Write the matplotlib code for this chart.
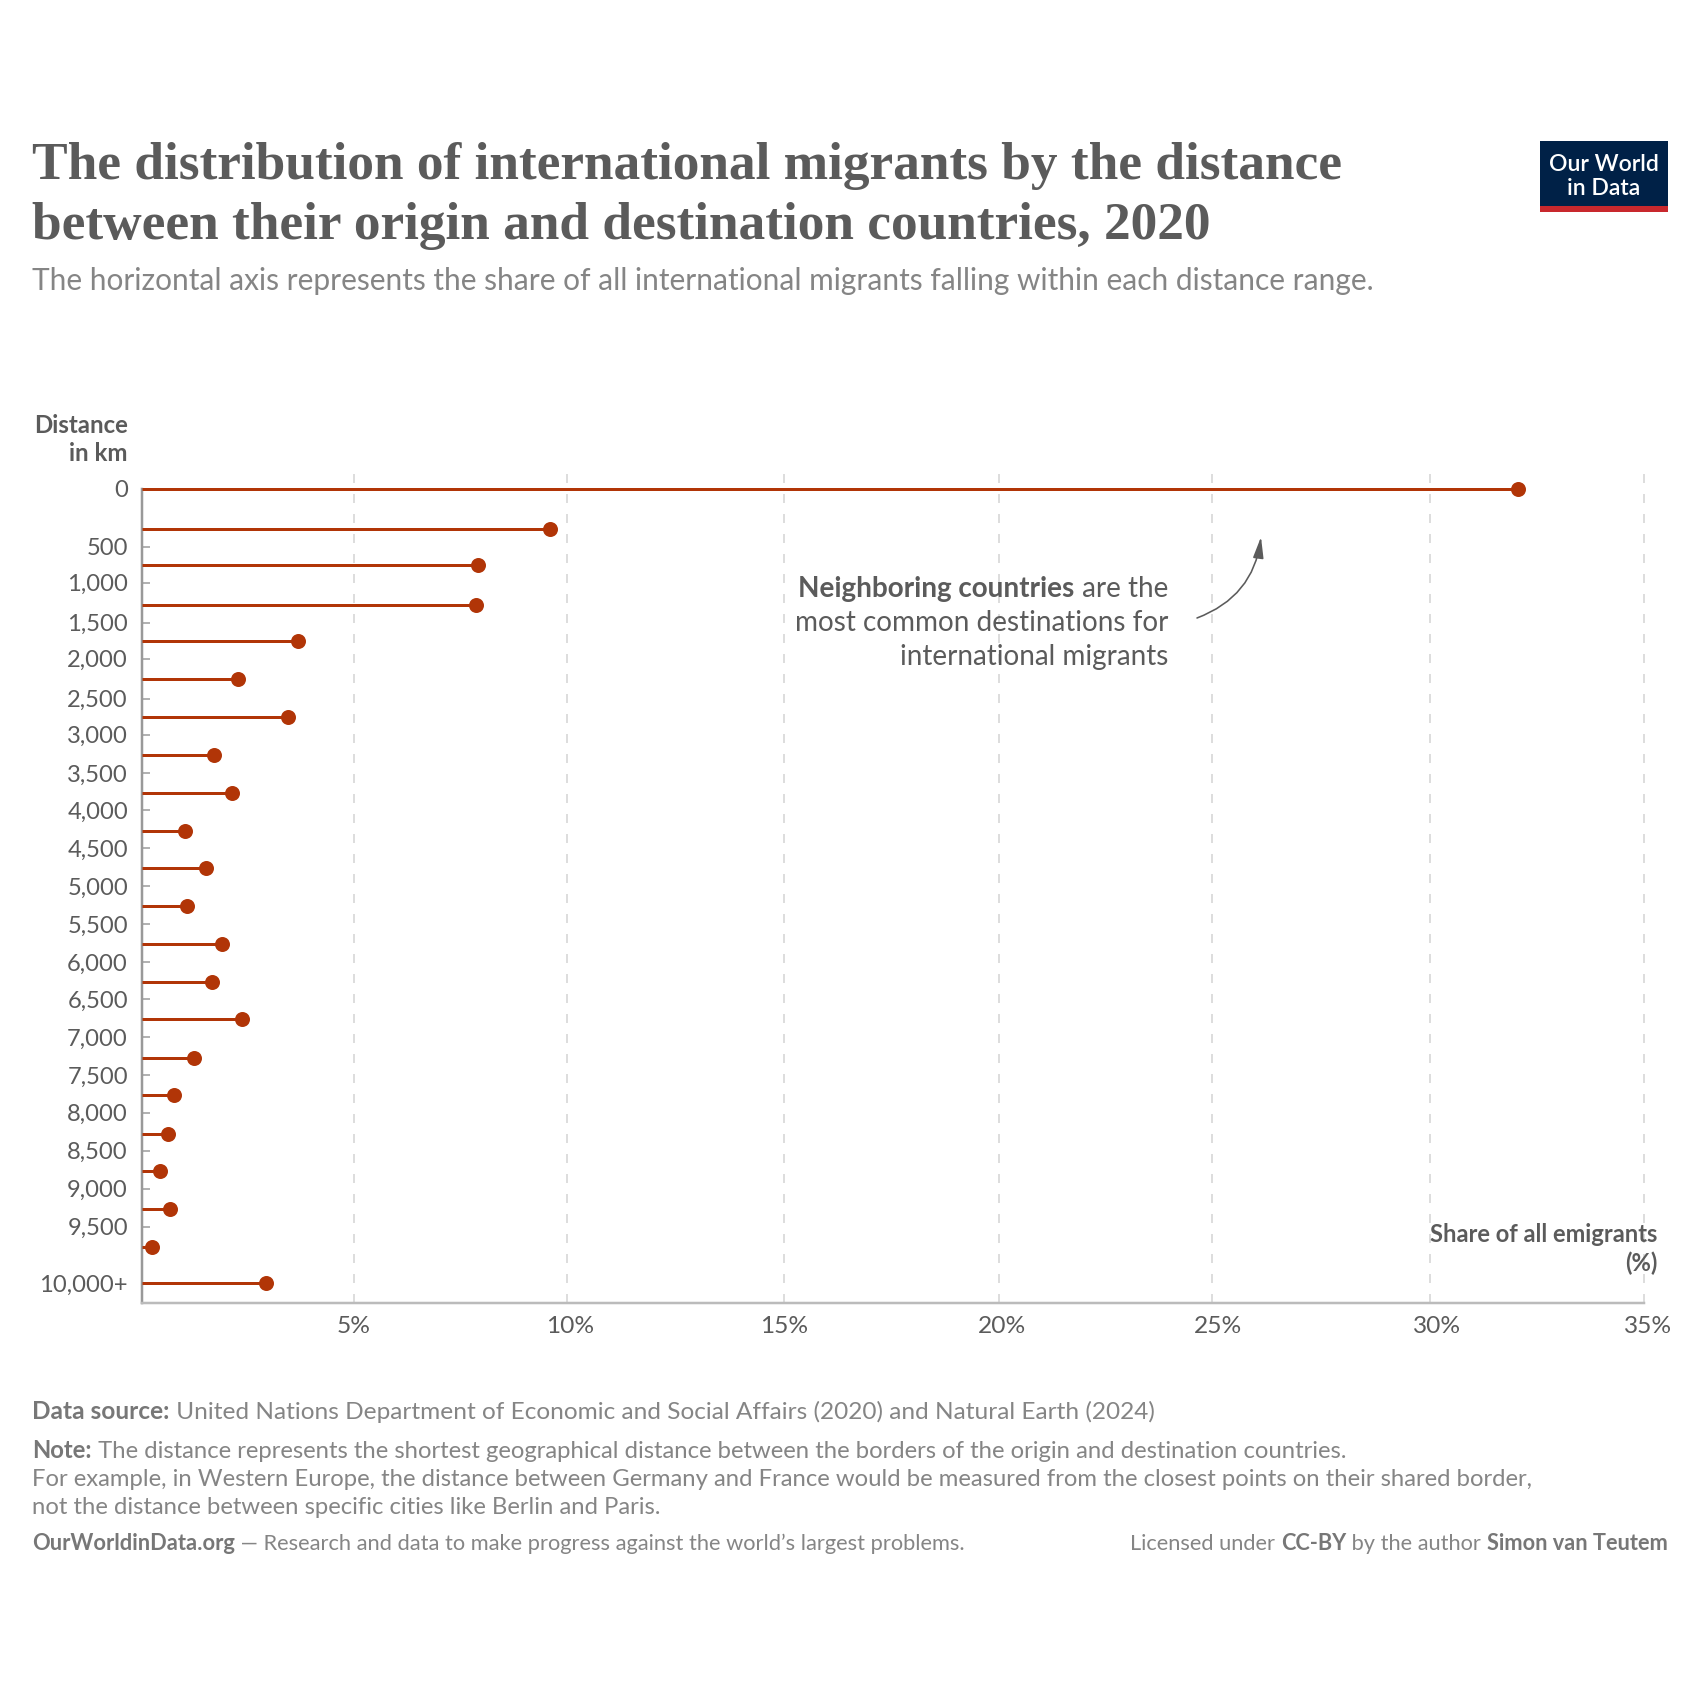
import matplotlib
matplotlib.use('Agg')
import matplotlib.pyplot as plt
from matplotlib.patches import Rectangle, FancyArrowPatch

# rows of the chart: position on the distance scale and share of migrants
row_km = [-265, 265, 741, 1270, 1746, 2249, 2751, 3254, 3757, 4253, 4755,
          5251, 5754, 6257, 6746, 7262, 7751, 8267, 8757, 9259, 9762, 10238]
share = [32.07, 9.5, 7.84, 7.78, 3.64, 2.24, 3.40, 1.68, 2.10, 1.01, 1.49,
         1.06, 1.86, 1.63, 2.33, 1.21, 0.75, 0.61, 0.42, 0.65, 0.23, 2.89]

tick_km = [499, 975, 1504, 1980, 2509, 2985, 3492, 3981, 4484, 4987, 5489,
           5992, 6481, 6984, 7487, 7985, 8488, 8991, 9493]
tick_labels = ['500', '1,000', '1,500', '2,000', '2,500', '3,000', '3,500', '4,000',
               '4,500', '5,000', '5,500', '6,000', '6,500', '7,000', '7,500',
               '8,000', '8,500', '9,000', '9,500']
end_km = [-265, 10238]
end_labels = ['0', '10,000+']
# gridlines and their labels, in percent
x_ticks = [4.94, 9.90, 14.96, 19.98, 24.93, 30.01, 35]
x_label_pos = [4.92, 9.97, 14.96, 20.04, 25.08, 30.18, 35.09]
x_labels = ['5%', '10%', '15%', '20%', '25%', '30%', '35%']

SIZE = 1700
DARK = '#5b5b5b'
GREY = '#858585'
RUST = '#b13507'

plt.rcParams['font.family'] = ['Lato', 'DejaVu Sans']


def pt(px):
    return px * 0.72


def put(x, y, s, size, color=DARK, weight='normal', ha='left', va='baseline', family=None):
    t = fig.text(x / SIZE, 1 - y / SIZE, s, fontsize=pt(size), color=color, weight=weight,
                 ha=ha, va=va, zorder=5)
    if family:
        t.set_family(family)
    return t


def put_parts(x, y, parts, size, ha='left'):
    # parts is a list of (text, color, weight), placed one after the other
    rend = fig.canvas.get_renderer()
    widths = []
    for s, color, weight in parts:
        t = put(0, 0, s.replace(' ', '\u00a0'), size, color, weight)
        widths.append(t.get_window_extent(rend).width)
        t.remove()
    if ha == 'right':
        x = x - sum(widths)
    for (s, color, weight), w in zip(parts, widths):
        put(x, y, s.replace(' ', '\u00a0'), size, color, weight)
        x += w


def white_box(x0, y0, x1, y1):
    fig.add_artist(Rectangle((x0 / SIZE, 1 - y1 / SIZE), (x1 - x0) / SIZE, (y1 - y0) / SIZE,
                             transform=fig.transFigure, facecolor='white', edgecolor='none',
                             zorder=1.5))


fig = plt.figure(figsize=(17, 17), dpi=100, facecolor='white')

left, right, top, bottom = 142, 1644, 470, 1303
ax = fig.add_axes([left / SIZE, 1 - bottom / SIZE, (right - left) / SIZE, (bottom - top) / SIZE])
ax.patch.set_visible(False)
ax.set_xlim(0, 35)
ax.set_ylim(10503, -516)

ax.set_axisbelow(True)
ax.hlines(row_km, 0, share, color=RUST, lw=pt(3), zorder=3)
ax.plot(share, row_km, 'o', color=RUST, ms=pt(15), mew=0, zorder=4, clip_on=False)

ax.set_xticks(x_ticks)
ax.set_xticklabels([])
for pos, lab in zip(x_label_pos, x_labels):
    ax.annotate(lab, (pos, 0), xycoords=('data', 'axes fraction'), xytext=(0, -pt(13)),
                textcoords='offset points', ha='center', va='top', fontsize=pt(24.5), color=DARK)
ax.set_yticks(tick_km)
ax.set_yticklabels(tick_labels)
ax.set_yticks(end_km, minor=True)
ax.set_yticklabels(end_labels, minor=True)
ax.tick_params(axis='x', length=0)
ax.tick_params(axis='y', which='major', direction='in', length=pt(8), width=pt(1.5), color='#999999',
               pad=pt(14), labelsize=pt(23.8), labelcolor=DARK)
ax.tick_params(axis='y', which='minor', length=0, pad=pt(14), labelsize=pt(23.8), labelcolor=DARK)

ax.grid(axis='x', color='#dddddd', lw=pt(2), linestyle=(0, (9 / 2, 11 / 2)))
for gl in ax.get_xgridlines():
    gl.set_clip_on(False)

for side in ['top', 'right']:
    ax.spines[side].set_visible(False)
ax.spines['left'].set_bounds(-265, 10503)
ax.spines['left'].set_color('#999999')
ax.spines['left'].set_linewidth(pt(2.5))
ax.spines['bottom'].set_color('#bbbbbb')
ax.spines['bottom'].set_linewidth(pt(2.5))

# annotation and labels sit on white, cutting the gridlines
white_box(775, 549, 1175, 698)
white_box(1190, 533, 1270, 640)
white_box(1420, 1195, 1670, 1296)
ax.set_zorder(2)

# header
put(32.5, 179, 'The distribution of international migrants by the distance', 53.4, weight='bold',
    family='Liberation Serif')
put(32.5, 239, 'between their origin and destination countries, 2020', 53.4, weight='bold',
    family='Liberation Serif')
put(32.5, 290, 'The horizontal axis represents the share of all international migrants falling within each distance range.',
    29.85, GREY)

# logo
fig.add_artist(Rectangle((1540.3 / SIZE, 1 - 206 / SIZE), 127.4 / SIZE, 64.7 / SIZE,
                         transform=fig.transFigure, facecolor='#002147', edgecolor='none'))
fig.add_artist(Rectangle((1540.3 / SIZE, 1 - 211.7 / SIZE), 127.4 / SIZE, 5.7 / SIZE,
                         transform=fig.transFigure, facecolor='#c8282d', edgecolor='none'))
put(1604, 171, 'Our World', 23, 'white', 'semibold', ha='center')
put(1604, 195, 'in Data', 23, 'white', 'semibold', ha='center')

# axis titles
put(127.7, 433, 'Distance', 24, weight='bold', ha='right')
put(127.7, 461, 'in km', 24, weight='bold', ha='right')
put(1657, 1242, 'Share of all emigrants', 23.7, weight='bold', ha='right')
put(1657, 1271, '(%)', 23.7, weight='bold', ha='right')

# annotation
put_parts(1168, 597, [('Neighboring countries', DARK, 'bold'), (' are the', DARK, 'normal')], 27.9, ha='right')
put(1168, 631, 'most common destinations for', 27.9, ha='right')
put(1168, 665, 'international migrants', 27.9, ha='right')
fig.add_artist(FancyArrowPatch(
    (1197 / SIZE, 1 - 618 / SIZE), (1261 / SIZE, 1 - 537 / SIZE), transform=fig.transFigure,
    connectionstyle='arc3,rad=0.3', arrowstyle='-|>,head_length=0.8,head_width=0.2',
    mutation_scale=16, color=DARK, lw=pt(1.6), shrinkA=0, shrinkB=0, zorder=5))

# footer
BOLD_GREY = '#777777'
put_parts(32.5, 1419, [('Data source:', BOLD_GREY, 'bold'),
                       (' United Nations Department of Economic and Social Affairs (2020) and Natural Earth (2024)', GREY, 'normal')], 24.33)
put_parts(32.5, 1458, [('Note:', BOLD_GREY, 'bold'),
                       (' The distance represents the shortest geographical distance between the borders of the origin and destination countries.', GREY, 'normal')], 23.93)
put(32.5, 1486, 'For example, in Western Europe, the distance between Germany and France would be measured from the closest points on their shared border,', 23.83, GREY)
put(32.5, 1514, 'not the distance between specific cities like Berlin and Paris.', 23.83, GREY)
put_parts(32.5, 1550, [('OurWorldinData.org', BOLD_GREY, 'bold'),
                       (' \u2014 Research and data to make progress against the world\u2019s largest problems.', GREY, 'normal')], 21.85)
put_parts(1667.5, 1550, [('Licensed under ', GREY, 'normal'), ('CC-BY', BOLD_GREY, 'bold'),
                         (' by the author ', GREY, 'normal'), ('Simon van Teutem', BOLD_GREY, 'bold')], 21.8, ha='right')

fig.savefig('out.png', dpi=100, facecolor='white')
